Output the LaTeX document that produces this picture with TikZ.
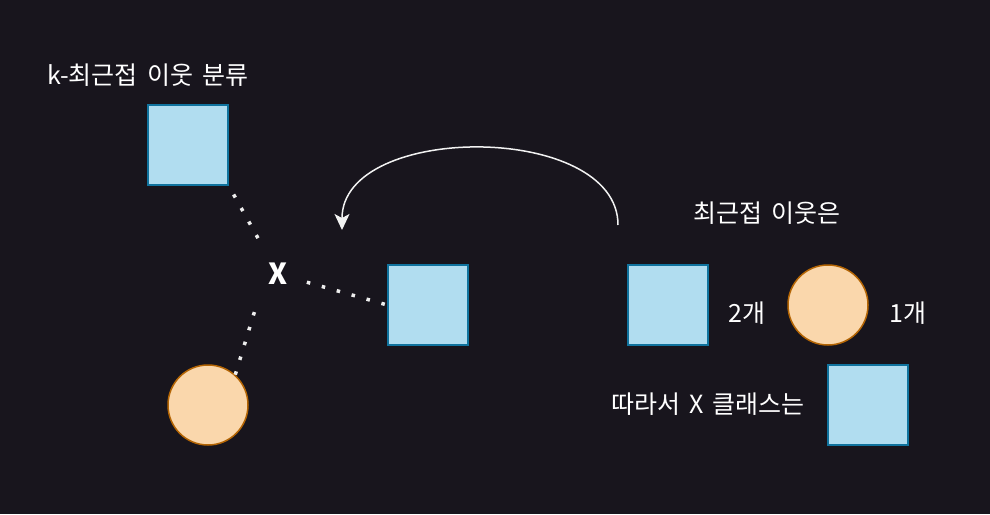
\documentclass[tikz,border=0pt]{standalone}
\usepackage{fontspec}
\setmainfont{Noto Sans CJK KR}[WordSpace=1.65]
\newfontfamily\xfont{Noto Sans CJK KR}
\usetikzlibrary{arrows.meta,calc}
\definecolor{bg}{HTML}{18151D}
\definecolor{sqfill}{HTML}{B1DDF0}
\definecolor{sqdraw}{HTML}{10739E}
\definecolor{cifill}{HTML}{FAD7AC}
\definecolor{cidraw}{HTML}{B46504}
\tikzset{
  sq/.style={draw=sqdraw, fill=sqfill, line width=1.5pt, minimum width=80pt, minimum height=80pt, inner sep=0pt},
  ci/.style={circle, draw=cidraw, fill=cifill, line width=1.5pt, minimum size=80pt, inner sep=0pt},
  lbl/.style={text=white, font=\fontsize{25}{28}\selectfont, inner sep=0pt},
  dots/.style={draw=white!93!black, line width=3.5pt, dash pattern=on 3.5pt off 12pt},
  arr/.style={draw=white!95!black, line width=1.5pt, -{Stealth[length=16pt,width=15pt,inset=4pt]}}
}
\begin{document}
\begin{tikzpicture}[x=1pt,y=-1pt]
\fill[bg] (0,0) rectangle (990,514);
\useasboundingbox (0,0) rectangle (990,514);
\node[sq] (s1) at (188,145) {};
\node[sq] (s2) at (428,305) {};
\node[sq] (s3) at (668,305) {};
\node[sq] (s4) at (868,405) {};
\node[ci] (c1) at (208,405) {};
\node[ci] (c2) at (828,305) {};
\node[text=white, font=\xfont\fontsize{29}{31}\selectfont\bfseries, inner sep=0pt, minimum size=40pt] (x) at (278,274) {X};
\coordinate (xc) at (266,274);
\node[lbl] (t1) at (148,75) {k-최근접 이웃 분류};
\node[lbl] (t2) at (767,213) {최근접 이웃은};
\node[lbl] (t3) at (747,313) {2개};
\node[lbl] (t4) at (908,313) {1개};
\node[lbl] (t5) at (708,404) {따라서 X 클래스는};
\coordinate (a0) at (618,225);
\coordinate (a1) at (342,230);
\draw[dots, shorten <=10pt, shorten >=36pt] (s1.south east) -- (x.center);
\draw[dots, shorten <=30pt] (x.center) -- (s2.west);
\draw[dots, shorten >=36pt] (c1.48) -- (xc);
\draw[arr] (a0) .. controls (618,122) and (342,122) .. (a1);
\end{tikzpicture}
\end{document}
